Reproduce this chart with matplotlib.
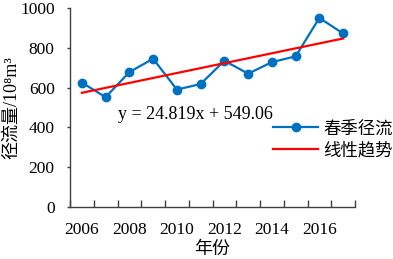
import matplotlib
matplotlib.use("Agg")
import matplotlib.pyplot as plt
import numpy as np

years = [2006, 2007, 2008, 2009, 2010, 2011, 2012, 2013, 2014, 2015, 2016, 2017]
runoff = [625, 552, 678, 745, 590, 618, 735, 670, 728, 757, 950, 872]
slope = 24.819
intercept = 549.06
yticks = [0, 200, 400, 600, 800, 1000]
xlabels = ["2006", "2008", "2010", "2012", "2014", "2016"]

FAM = ["Liberation Serif", "Noto Sans CJK SC", "DejaVu Sans"]
plt.rcParams["font.family"] = FAM

fig = plt.figure(figsize=(3.93, 2.59), dpi=100)
ax = fig.add_axes([70/393, 1-207/259, (355-70)/393, (207-8)/259])

n = len(years)
x = np.arange(1, n + 1)
ax.plot(x, runoff, color="#0070C0", lw=1.6, marker="o", ms=6, label="春季径流")
ax.plot(x, slope * x + intercept, color="#FF0000", lw=1.6, label="线性趋势")

ax.set_xlim(0.5, n + 0.5)
ax.set_ylim(0, 1000)
ax.set_yticks(yticks)
ax.set_yticklabels([str(v) for v in yticks], fontsize=12.5)

ax.set_xticks(np.arange(0.5, n + 1, 1))
ax.set_xticklabels([])
ax.tick_params(axis="x", which="major", direction="in", length=5, width=1, color="#404040")
ax.set_xticks(x[::2], minor=True)
ax.set_xticklabels(xlabels, minor=True, fontsize=12.5)
ax.tick_params(axis="x", which="minor", length=0, pad=11)
ax.tick_params(axis="y", direction="out", length=2, width=1, color="#404040", pad=9)

for s in ["top", "right"]:
    ax.spines[s].set_visible(False)
for s in ["left", "bottom"]:
    ax.spines[s].set_color("#404040")
    ax.spines[s].set_linewidth(1)

ax.set_xlabel("年份", fontsize=13, labelpad=2)
ax.set_ylabel("径流量/10⁸m³", fontsize=13, labelpad=0)

ax.text(2.52, 465, "y = 24.819x + 549.06", fontsize=13, ha="left", va="center")

leg = ax.legend(loc="upper left", bbox_to_anchor=(273/393, 1-121/259), bbox_transform=fig.transFigure,
                frameon=False, fontsize=12.5, handlelength=2.6, handletextpad=0.3,
                labelspacing=0.32, borderaxespad=0, borderpad=0)

fig.savefig("out.png", dpi=100)
